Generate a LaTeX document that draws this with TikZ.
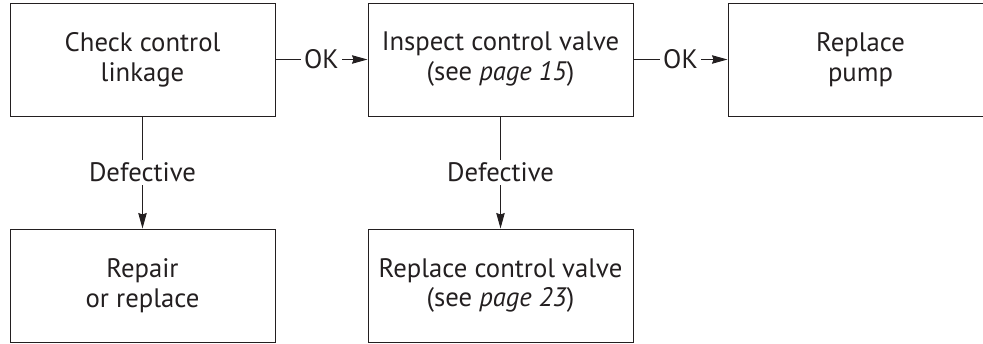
\documentclass[tikz,border=0pt]{standalone}
\usepackage{fontspec}
\setmainfont{PT Sans}
\usetikzlibrary{arrows.meta}
\definecolor{ink}{HTML}{231F20}

\begin{document}
\begin{tikzpicture}[
  box/.style={draw=ink, line width=0.7pt, minimum width=6.625cm, minimum height=2.825cm,
    align=center, text=ink, font=\fontsize{19}{21.3}\selectfont},
  lbl/.style={fill=white, inner sep=2pt, text=ink, font=\fontsize{19}{21.3}\selectfont},
  flow/.style={draw=ink, line width=0.7pt, -{Stealth[length=11pt,width=6pt,inset=1pt]}}
]
\useasboundingbox (0,0) rectangle (24.575,-8.575);
\clip (0,0) rectangle (24.575,-8.575);

\node[box] (check) at (3.5625,-1.4875) {Check control\\linkage};
\node[box] (inspect) at (12.5125,-1.4875) {Inspect control valve\\(see \textit{page 15})};
\node[box] (pump) at (21.5125,-1.4875) {Replace\\pump};
\node[box] (repair) at (3.5625,-7.1375) {Repair\\or replace};
\node[box] (valve) at (12.5125,-7.1375) {Replace control valve\\(see \textit{page 23})};

\draw[flow] (check) -- node[lbl] {OK} (inspect);
\draw[flow] (inspect) -- node[lbl] {OK} (pump);
\draw[flow] (check) -- node[lbl] {Defective} (repair);
\draw[flow] (inspect) -- node[lbl] {Defective} (valve);

\end{tikzpicture}
\end{document}
